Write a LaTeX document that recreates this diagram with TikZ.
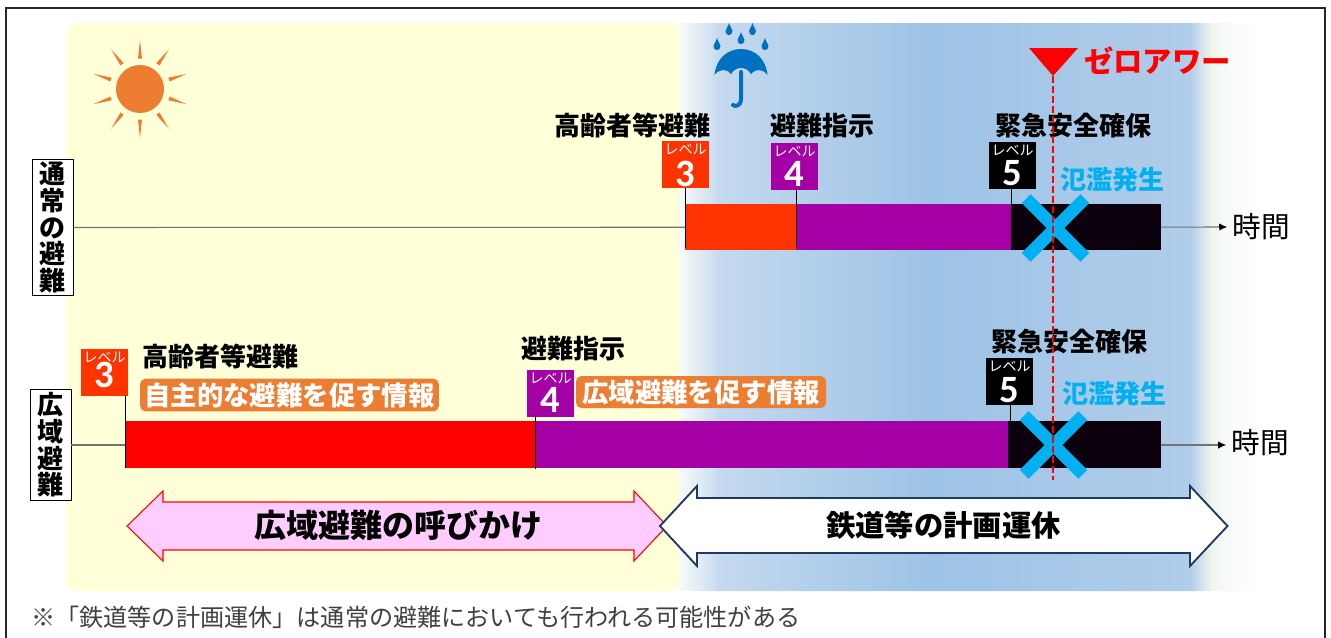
\documentclass[tikz,border=0pt]{standalone}
\usepackage{fontspec}
\setmainfont{Noto Sans CJK JP}
\newfontfamily\digitfont{Carlito}
\usetikzlibrary{arrows.meta}

\definecolor{sunorange}{HTML}{ED7D31}
\definecolor{rainblue}{HTML}{0070C0}
\definecolor{crossblue}{HTML}{00B0F0}
\definecolor{bgyellow}{HTML}{FFFFD8}
\definecolor{lvorange}{HTML}{FF3300}
\definecolor{lvpurple}{HTML}{A500A5}
\definecolor{lvblack}{HTML}{0D000D}
\definecolor{callpink}{HTML}{FFCCFF}
\definecolor{navy}{HTML}{1F3864}

\tikzset{
  headtext/.style={font=\fontsize{19.5pt}{20pt}\selectfont\bfseries, inner sep=0},
  floodtext/.style={headtext, text=crossblue},
  timetext/.style={font=\fontsize{21.5pt}{22pt}\selectfont, inner sep=4pt},
  kindbox/.style={draw, fill=white, line width=.7pt, inner sep=2pt, align=center, minimum width=30.7pt,
    font=\fontsize{19.5pt}{20pt}\selectfont\bfseries},
  badge/.style={minimum width=35.5pt, minimum height=35.3pt, inner sep=0},
  badgetop/.style={text=white, inner sep=0, font=\fontsize{10.5pt}{11pt}\selectfont},
  badgenum/.style={text=white, inner sep=0, font=\fontsize{29pt}{29pt}\digitfont\bfseries},
  infotag/.style={fill=sunorange, text=white, rounded corners=4pt, inner sep=0,
    minimum height=24.5pt, font=\fontsize{19.8pt}{20pt}\selectfont\bfseries},
  axisline/.style={gray!90!black, line width=.8pt, -{Latex[length=6pt,width=5.5pt,black]}},
  tick/.style={line width=.7pt, black},
  floodcross/.style={crossblue, line width=9.5pt}
}

\begin{document}
\begin{tikzpicture}[x=.75pt,y=-.75pt]
   \useasboundingbox (0,0) rectangle (1331,637);
   \draw[line width=1.5pt, black!85] (5.5,7.5) rectangle (1325,660);

   % background
   \begin{scope}
   \clip[rounded corners=8pt] (66,23) rectangle (1263,591);
   \fill[bgyellow, rounded corners=8pt] (66,23) rectangle (681,591);
   \foreach \xa/\xb/\ca/\cb in {679/700/F8FAFA/E0EBF5, 699.5/720/E0EBF5/C4D9EE, 719.5/930/C4D9EE/9DC3E6,
      929.5/1190/9DC3E6/B0CDEA, 1189.5/1200/B0CDEA/CCDFEB, 1199.5/1212/CCDFEB/F0F6EC,
      1211.5/1225/F0F6EC/F8FAF8, 1224.5/1245/F8FAF8/FCFDFD, 1244.5/1264/FCFDFD/FFFFFF}{
     \definecolor{segleft}{HTML}{\ca}
     \definecolor{segright}{HTML}{\cb}
     \shade[left color=segleft, right color=segright] (\xa,23) rectangle (\xb,591);
   }
   \end{scope}

   % sun
   \coordinate (sun) at (140,89);
   \fill[sunorange] (sun) circle (18pt);
   \foreach \a in {18,54,...,342}
   \fill[sunorange, rotate around={\a:(sun)}] (170.5,87) -- (189,89) -- (170.5,91) -- cycle;

   % umbrella
   \fill[rainblue] (714.5,75) .. controls (716,59) and (727,49) .. (741,49) .. controls (755,49) and (766,59) .. (767.5,75)
     .. controls (763,69) and (756,68) .. (751,74) .. controls (748,69) and (744,68) .. (741,68)
     .. controls (738,68) and (734,69) .. (731,74) .. controls (726,68) and (719,69) .. (714.5,75) -- cycle;
   \draw[rainblue, line width=3pt, line cap=round] (741,72) -- (741,99) .. controls (741,106) and (735,107) .. (733,105);
   \foreach \x/\y in {729/29, 752.5/29, 741/38, 717/44, 765/44}
   \fill[rainblue] (\x,\y-6) .. controls (\x+1,\y-2) and (\x+3.5,\y) .. (\x+3.5,\y+2)
     .. controls (\x+3.5,\y+7.5) and (\x-3.5,\y+7.5) .. (\x-3.5,\y+2) .. controls (\x-3.5,\y) and (\x-1,\y-2) .. (\x,\y-6) -- cycle;

   % row labels
   \node[kindbox] (kindA) at (52.5,227.5) {通\\常\\の\\避\\難};
   \node[kindbox] (kindB) at (50.5,445) {広\\域\\避\\難};
   \node[timetext] (timeA) at (1261.5,227) {時間};
   \node[timetext] (timeB) at (1260.5,443) {時間};
   \draw[axisline] (kindA) -- (timeA);
   \draw[axisline] (kindB) -- (kindB -| timeB.west);

   % bars
   \fill[lvorange] (685,204) rectangle (796,250);
   \fill[lvpurple] (796,204) rectangle (1011,250);
   \fill[lvblack] (1011,204) rectangle (1161,250);
   \fill[red] (125,421) rectangle (535,468);
   \fill[lvpurple] (535,421) rectangle (1008,468);
   \fill[lvblack] (1008,421) rectangle (1161,468);

   % level badges
   \foreach \nm/\x/\y/\c/\n/\d in {lvA/685.5/164.5/lvorange/3/9.5, lvB/794.5/166.5/lvpurple/4/7, lvC/1012.5/165.5/black/5/8,
      lvD/104.5/372.5/lvorange/3/2, lvE/550.5/393.5/lvpurple/4/6, lvF/1009.5/381.5/black/5/8.5}{
     \node[badge, fill=\c] (\nm) at (\x,\y) {};
     \node[badgetop] (\nm t) at (\x,\y-15) {レベル};
     \node[badgenum] (\nm n) at (\x,\y+\d) {\n};
   }
   \foreach \nm/\x/\y in {lvA/685/248, lvB/796/248, lvC/1011/204, lvD/125/468, lvE/535/469, lvF/1010/421}{
     \coordinate (\nm e) at (\x,\y);
     \draw[tick] (\nm.south -| \nm e) -- (\nm e);
   }

   % level names
   \node[headtext] (nameA) at (632.5,126) {高齢者等避難};
   \node[headtext] (nameB) at (822,126) {避難指示};
   \node[headtext] (nameC) at (1073,126) {緊急安全確保};
   \node[headtext] (nameD) at (220,357) {高齢者等避難};
   \node[headtext] (nameE) at (573,349) {避難指示};
   \node[headtext] (nameF) at (1069,342) {緊急安全確保};
   \node[floodtext] (floodA) at (1112,180) {氾濫発生};
   \node[floodtext] (floodB) at (1114,394) {氾濫発生};
   \node[infotag, minimum width=224pt] (tagA) at (289.5,395) {自主的な避難を促す情報};
   \node[infotag, minimum width=187.5pt, minimum height=24pt] (tagB) at (701,392) {広域避難を促す情報};

   % flood crosses
   \coordinate (crossA) at (1055.5,228);
   \coordinate (crossB) at (1053.5,445);
   \foreach \c in {crossA,crossB}{
     \draw[floodcross] ([xshift=-22pt,yshift=22pt]\c) -- ([xshift=22pt,yshift=-22pt]\c);
     \draw[floodcross] ([xshift=-22pt,yshift=-22pt]\c) -- ([xshift=22pt,yshift=22pt]\c);
   }

   % zero hour
   \fill[red] (1029,48) -- (1078,48) -- (1053,76) -- cycle;
   \coordinate (zero) at (1053,76);
   \coordinate (zeroend) at (1053,480);
   \draw[red, dash pattern=on 5pt off 2.5pt, line width=1.2pt] (zero) -- (zeroend);
   \node[font=\fontsize{22pt}{22pt}\selectfont\bfseries, text=red, inner sep=0] (zerotext) at (1157.5,61) {ゼロアワー};

   % long arrows
   \draw[red, fill=callpink, line width=.8pt] (127,526) -- (163,491) -- (163,502) -- (634,502) -- (634,491) -- (667,526)
     -- (634,561) -- (634,550) -- (163,550) -- (163,561) -- cycle;
   \node[font=\fontsize{24pt}{24pt}\selectfont\bfseries, inner sep=0] (callA) at (398.5,525) {広域避難の呼びかけ};
   \draw[navy, fill=white, line width=1.4pt] (660,526) -- (697,486) -- (697,498) -- (1190,498) -- (1190,486) -- (1227.5,526)
     -- (1190,566) -- (1190,553) -- (697,553) -- (697,566) -- cycle;
   \node[font=\fontsize{22pt}{22pt}\selectfont\bfseries, inner sep=0] (callB) at (943.5,525) {鉄道等の計画運休};

   % note
   \node[anchor=west, text=black!75, inner sep=0, font=\fontsize{18.1pt}{18pt}\selectfont] (note) at (31,617)
     {※「鉄道等の計画運休」は通常の避難においても行われる可能性がある};
\end{tikzpicture}
\end{document}
